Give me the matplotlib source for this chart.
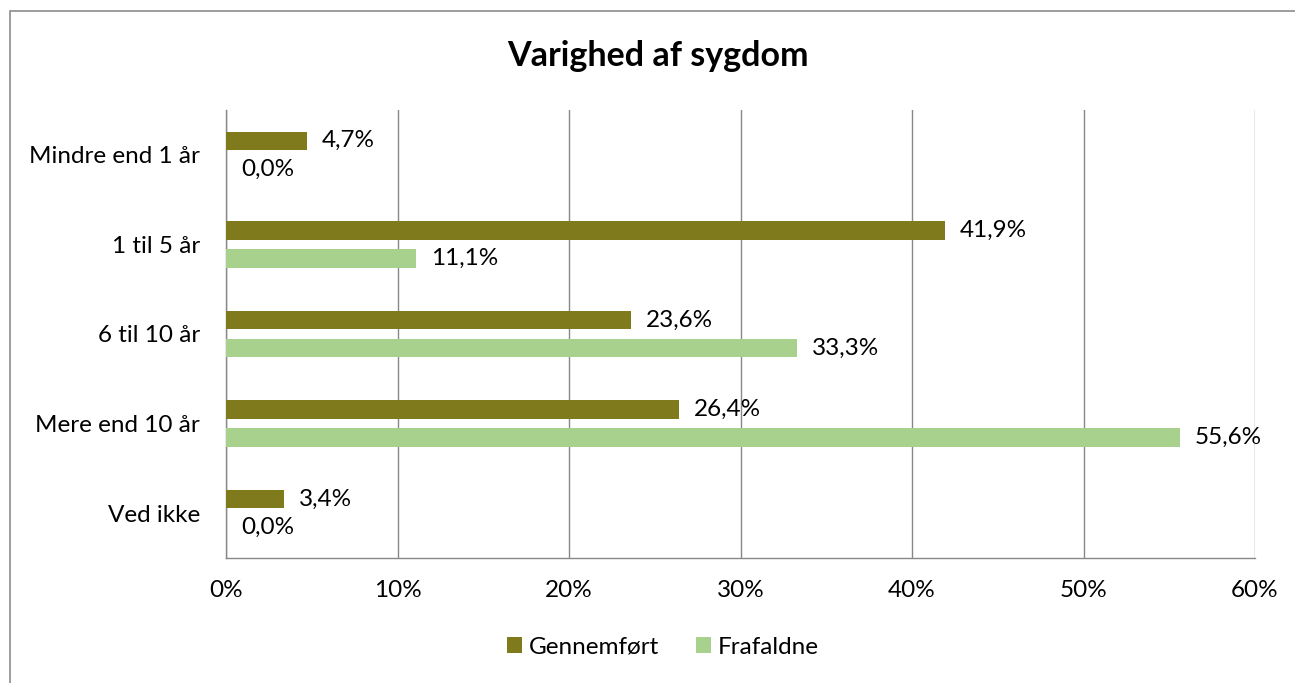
import matplotlib
matplotlib.use("Agg")
import matplotlib.pyplot as plt
import numpy as np
from matplotlib.patches import Rectangle

categories = ["Mindre end 1 år", "1 til 5 år", "6 til 10 år", "Mere end 10 år", "Ved ikke"]
gennemfoert = [4.7, 41.9, 23.6, 26.4, 3.4]
frafaldne = [0.0, 11.1, 33.3, 55.6, 0.0]
series_names = ["Gennemført", "Frafaldne"]
xticks = [0, 10, 20, 30, 40, 50, 60]
title = "Varighed af sygdom"

dark = "#7f7a1c"
light = "#a9d18e"
grid = "#888888"

plt.rcParams['font.family'] = ['Lato', 'DejaVu Sans']

W, H = 1295, 683
fig = plt.figure(figsize=(W / 100, H / 100), dpi=100)
ax = fig.add_axes([226 / W, 1 - 558 / H, (1255 - 226) / W, (558 - 110) / H])

# outer chart border (extends beyond image right/bottom)
fig.patches.append(Rectangle((9.5 / W, -0.1), 1.2, 1 - 11 / H + 0.1, transform=fig.transFigure,
                             fill=False, edgecolor="#8c8c8c", linewidth=1.2))

y = np.arange(len(categories))
h = 0.205
off = 0.157
ax.barh(y - off, gennemfoert, height=h, color=dark, label=series_names[0], zorder=3)
ax.barh(y + off, frafaldne, height=h, color=light, label=series_names[1], zorder=3)

fs = 17.5
for yi, v in zip(y, gennemfoert):
    ax.text(v + 0.87, yi - off, f"{v:.1f}".replace(".", ",") + "%", va="center", ha="left", fontsize=fs)
for yi, v in zip(y, frafaldne):
    ax.text(v + 0.87, yi + off, f"{v:.1f}".replace(".", ",") + "%", va="center", ha="left", fontsize=fs)

ax.set_xlim(0, 60)
ax.set_ylim(len(categories) - 0.5, -0.5)
ax.set_xticks(xticks)
ax.set_xticklabels([f"{t}%" for t in xticks], fontsize=fs)
ax.set_yticks(y)
ax.set_yticklabels(categories, fontsize=fs)
ax.tick_params(axis="both", length=0)
ax.tick_params(axis="x", pad=16)
ax.tick_params(axis="y", pad=18.7)
ax.xaxis.grid(True, color=grid, linewidth=1.0, zorder=0)
ax.set_axisbelow(True)
for s in ["top", "right"]:
    ax.spines[s].set_visible(False)
for s in ["left", "bottom"]:
    ax.spines[s].set_color(grid)
    ax.spines[s].set_linewidth(1.0)

fig.text(658 / W, 1 - 56 / H, title, ha="center", va="center", fontsize=24.5, fontweight="bold")

leg = fig.legend(loc="center", bbox_to_anchor=(663 / W, 1 - 647 / H), ncol=2, frameon=False,
                 fontsize=fs, handlelength=0.62, handleheight=0.62, handletextpad=0.3, columnspacing=1.5)

fig.savefig("out.png", dpi=100)
